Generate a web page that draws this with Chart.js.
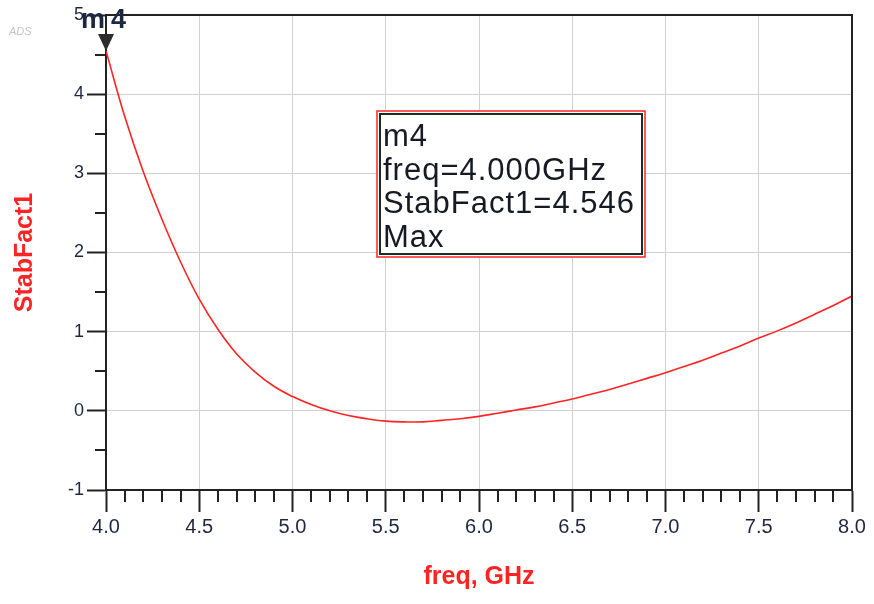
<!DOCTYPE html>
<html>
<head>
<meta charset="utf-8">
<script src="https://cdn.jsdelivr.net/npm/chart.js@4/dist/chart.umd.min.js"></script>
<style>
  html, body { margin: 0; padding: 0; background: #fff; }
  #wrap { width: 874px; height: 604px; }
</style>
</head>
<body>
<div id="wrap"><canvas id="stabChart" width="874" height="604"></canvas></div>
<script>
const freqGHz = [4.0, 4.1, 4.2, 4.3, 4.4, 4.5, 4.6, 4.7, 4.8, 4.9,
                 5.0, 5.1, 5.2, 5.3, 5.4, 5.5, 5.6, 5.7, 5.8, 5.9,
                 6.0, 6.1, 6.2, 6.3, 6.4, 6.5, 6.6, 6.7, 6.8, 6.9,
                 7.0, 7.1, 7.2, 7.3, 7.4, 7.5, 7.6, 7.7, 7.8, 7.9, 8.0];
const stabFact1 = [4.546, 3.72, 3.02, 2.42, 1.88, 1.41, 1.03, 0.72, 0.49, 0.31,
                   0.18, 0.08, 0.00, -0.06, -0.10, -0.13, -0.14, -0.14, -0.12, -0.10,
                   -0.07, -0.03, 0.01, 0.05, 0.10, 0.15, 0.21, 0.27, 0.34, 0.41,
                   0.48, 0.56, 0.64, 0.73, 0.82, 0.92, 1.01, 1.11, 1.22, 1.33, 1.45];
const xMajorTicks = [4.0, 4.5, 5.0, 5.5, 6.0, 6.5, 7.0, 7.5, 8.0];
const yMajorTicks = [-1, 0, 1, 2, 3, 4, 5];
const markerName = 'm4';
const markerFreq = 4.0;
const markerValue = 4.546;
const markerLines = ['m4', 'freq=4.000GHz', 'StabFact1=4.546', 'Max'];

const dark = '#1e2740';
const red = '#ff2424';

// minor ticks, frame, marker and readout box
const adsExtras = {
    id: 'adsExtras',
    afterDraw(chart) {
        const ctx = chart.ctx;
        const a = chart.chartArea;
        const xs = chart.scales.x, ys = chart.scales.y;
        ctx.save();

        ctx.strokeStyle = '#222';
        ctx.lineWidth = 2;
        ctx.beginPath();
        for (let i = 1; i < 40; i++) {
            if (i % 5 === 0) continue;
            const px = Math.round(xs.getPixelForValue(4 + i * 0.1));
            ctx.moveTo(px, a.bottom);
            ctx.lineTo(px, a.bottom + 12);
        }
        for (let v = -0.5; v < 5; v += 1) {
            const py = Math.round(ys.getPixelForValue(v));
            ctx.moveTo(a.left, py);
            ctx.lineTo(a.left - 11, py);
        }
        ctx.stroke();

        // top and right frame
        ctx.beginPath();
        ctx.moveTo(a.left, a.top);
        ctx.lineTo(a.right, a.top);
        ctx.lineTo(a.right, a.bottom);
        ctx.stroke();

        // marker triangle
        const mx = xs.getPixelForValue(markerFreq);
        const my = ys.getPixelForValue(markerValue);
        ctx.fillStyle = '#2c2c2c';
        ctx.beginPath();
        ctx.moveTo(mx - 8, my - 17);
        ctx.lineTo(mx + 8, my - 17);
        ctx.lineTo(mx, my);
        ctx.closePath();
        ctx.fill();

        ctx.fillStyle = dark;
        ctx.font = 'bold 27px Arial, "Liberation Sans"';
        ctx.textAlign = 'left';
        ctx.textBaseline = 'alphabetic';
        ctx.letterSpacing = '6px';
        ctx.fillText(markerName, mx - 25, my - 23);
        ctx.letterSpacing = '0px';

        // readout box
        const bx = 377, by = 111, bw = 268, bh = 146;
        ctx.fillStyle = '#fff';
        ctx.fillRect(bx, by, bw, bh);
        ctx.strokeStyle = red;
        ctx.lineWidth = 1.5;
        ctx.strokeRect(bx, by, bw, bh);
        ctx.strokeStyle = '#1d2b22';
        ctx.lineWidth = 2;
        ctx.strokeRect(bx + 3, by + 3, bw - 6, bh - 6);

        ctx.fillStyle = '#161a24';
        ctx.font = '31px Arial, "Liberation Sans"';
        ctx.letterSpacing = '1px';
        markerLines.forEach((t, i) => {
            ctx.fillText(t, bx + 6, by + 35 + i * 33.5);
        });
        ctx.letterSpacing = '0px';

        // faint ADS tag
        ctx.fillStyle = '#c4c4c4';
        ctx.font = 'italic 11px Arial, "Liberation Sans"';
        ctx.fillText('ADS', 9, 35);

        ctx.restore();
    }
};

new Chart(document.getElementById('stabChart').getContext('2d'), {
    type: 'line',
    data: {
        datasets: [{
            label: 'StabFact1',
            data: freqGHz.map((f, i) => ({ x: f, y: stabFact1[i] })),
            borderColor: red,
            borderWidth: 1.6,
            pointRadius: 0,
            fill: false,
            tension: 0.4
        }]
    },
    options: {
        responsive: false,
        animation: false,
        layout: { padding: { left: 0, right: 22, top: 15, bottom: 0 } },
        plugins: {
            legend: { display: false },
            tooltip: { enabled: false }
        },
        scales: {
            x: {
                type: 'linear',
                min: 4,
                max: 8,
                afterBuildTicks: (s) => { s.ticks = xMajorTicks.map(v => ({ value: v })); },
                afterFit: (s) => { s.height = 114; },
                ticks: {
                    color: dark,
                    font: { family: 'Arial, "Liberation Sans"', size: 20 },
                    padding: 3,
                    maxRotation: 0,
                    callback: (v) => Number(v).toFixed(1)
                },
                grid: {
                    color: '#d0d0d0',
                    lineWidth: 1,
                    tickColor: '#222',
                    tickWidth: 2,
                    tickLength: 22
                },
                border: { color: '#222', width: 2 },
                title: {
                    display: true,
                    text: 'freq, GHz',
                    color: red,
                    font: { family: 'Arial, "Liberation Sans"', size: 25, weight: 'bold' },
                    padding: { top: 0, bottom: 12 }
                }
            },
            y: {
                min: -1,
                max: 5,
                afterBuildTicks: (s) => { s.ticks = yMajorTicks.map(v => ({ value: v })); },
                afterFit: (s) => { s.width = 106; },
                ticks: {
                    color: dark,
                    font: { family: 'Arial, "Liberation Sans"', size: 18 },
                    padding: 3
                },
                grid: {
                    color: '#d0d0d0',
                    lineWidth: 1,
                    tickColor: '#222',
                    tickWidth: 2,
                    tickLength: 19
                },
                border: { color: '#222', width: 2 },
                title: {
                    display: true,
                    text: 'StabFact1',
                    color: red,
                    font: { family: 'Arial, "Liberation Sans"', size: 25, weight: 'bold' },
                    padding: { top: 10, bottom: 0 }
                }
            }
        }
    },
    plugins: [adsExtras]
});
</script>
</body>
</html>
